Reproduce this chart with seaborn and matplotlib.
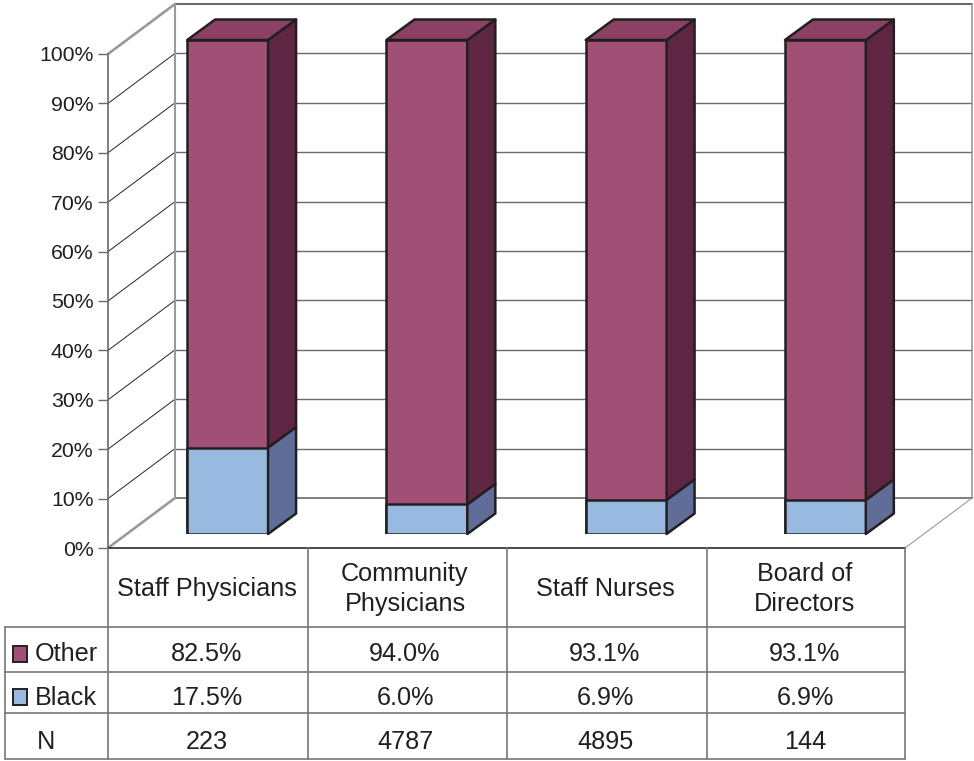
import matplotlib
matplotlib.use("Agg")
import matplotlib.pyplot as plt
from matplotlib.patches import Polygon, Rectangle
import seaborn as sns

categories = ["Staff Physicians", "Community\nPhysicians", "Staff Nurses", "Board of\nDirectors"]
other = [82.5, 94.0, 93.1, 93.1]
black = [17.5, 6.0, 6.9, 6.9]
n_values = [223, 4787, 4895, 144]
y_ticks = list(range(0, 101, 10))

W, H = 974, 761
sns.set_theme(style="white")
plt.rcParams["font.family"] = ["Liberation Sans", "DejaVu Sans"]
INK = "#231F20"
GREY = "#9A9A9C"
GRID = "#6A6A6C"

def box(l, top, r, bottom):
    return [l / W, 1 - bottom / H, (r - l) / W, (bottom - top) / H]

fig = plt.figure(figsize=(W / 100, H / 100), dpi=100, facecolor="white")

# --- chart frame: front plane of the 3-D box
ax = fig.add_axes(box(108, 54, 905, 548))
ax.set_xlim(0, 4)
ax.set_ylim(0, 100)
ax.patch.set_alpha(0)
sns.despine(ax=ax, top=True, right=True, bottom=True)
ax.spines["left"].set_color(GRID)
ax.spines["left"].set_linewidth(1.2)
ax.set_xticks([])
ax.set_yticks(y_ticks)
ax.set_yticklabels([f"{v}%" for v in y_ticks], fontsize=15.3, color=INK)
ax.tick_params(axis="y", left=True, length=7, width=1, color=GRID, pad=3.4)

wall_dx = 67 / (797 / 4)
wall_dy = 50 / 4.94
for v in y_ticks[1:-1]:
    ax.plot([0, wall_dx], [v, v + wall_dy], color="#222222", lw=0.7, clip_on=False, zorder=1)
    ax.plot([wall_dx, 4 + wall_dx], [v + wall_dy] * 2, color=GRID, lw=1.0, clip_on=False, zorder=1)
# wall outlines
ax.plot([wall_dx, wall_dx], [wall_dy, 100 + wall_dy], color=GREY, lw=1.5, clip_on=False, zorder=1)
ax.plot([wall_dx, 4 + wall_dx], [100 + wall_dy] * 2, color=GRID, lw=1.5, clip_on=False, zorder=1)
ax.plot([4 + wall_dx] * 2, [wall_dy, 100 + wall_dy], color=GREY, lw=1.2, clip_on=False, zorder=1)
ax.plot([wall_dx, 4 + wall_dx], [wall_dy, wall_dy], color=GRID, lw=1.2, clip_on=False, zorder=1)
ax.plot([0, wall_dx], [0, wall_dy], color=GREY, lw=1.9, clip_on=False, zorder=1)
ax.plot([0, wall_dx], [100, 100 + wall_dy], color=GREY, lw=1.9, clip_on=False, zorder=1)
ax.plot([4, 4 + wall_dx], [0, wall_dy], color=GREY, lw=0.8, clip_on=False, zorder=1)

# --- bars: plane part-way into the box
bar_ax = fig.add_axes(box(128, 40, 925, 534))
bar_ax.patch.set_alpha(0)
totals = [o + b for o, b in zip(other, black)]
short = [c.replace("\n", " ") for c in categories]
FRONT_O, SIDE_O, TOP_O = "#A05075", "#5E2642", "#8A4163"
FRONT_B, SIDE_B = "#98B9E0", "#5F6D98"
EDGE = dict(edgecolor=INK, linewidth=1.8)
sns.barplot(x=short, y=totals, color=FRONT_O, saturation=1, width=0.406, ax=bar_ax, **EDGE)
sns.barplot(x=short, y=black, color=FRONT_B, saturation=1, width=0.406, ax=bar_ax, **EDGE)
bar_ax.set_xlim(-0.5, 3.5)
bar_ax.set_ylim(0, 100)
bar_ax.axis("off")

bar_dx = 28 / (797 / 4)
bar_dy = 20.5 / 4.94
for i in range(len(categories)):
    tot = bar_ax.patches[i]
    low = bar_ax.patches[i + len(categories)]
    x0, x1 = tot.get_x(), tot.get_x() + tot.get_width()
    t, b = tot.get_height(), low.get_height()
    faces = [
        ([(x1, 0), (x1, b), (x1 + bar_dx, b + bar_dy), (x1 + bar_dx, bar_dy)], SIDE_B),
        ([(x1, b), (x1, t), (x1 + bar_dx, t + bar_dy), (x1 + bar_dx, b + bar_dy)], SIDE_O),
        ([(x0, t), (x1, t), (x1 + bar_dx, t + bar_dy), (x0 + bar_dx, t + bar_dy)], TOP_O),
    ]
    for pts, col in faces:
        bar_ax.add_patch(Polygon(pts, closed=True, facecolor=col, edgecolor=INK,
                                 linewidth=1.8, clip_on=False, joinstyle="round"))

# --- data table, in pixel coordinates of the page
tab = fig.add_axes([0, 0, 1, 1])
tab.set_xlim(0, W)
tab.set_ylim(H, 0)
tab.axis("off")
tab.patch.set_alpha(0)
col_x = [108, 307.5, 507, 707, 905]
row_y = [548, 627, 672, 713, 759]
LINE = "#77777A"
tab.plot([108, 905], [548, 548], color="#2A2A2C", lw=1.2)
for y in row_y[1:]:
    tab.plot([5, 905], [y, y], color=LINE, lw=1.2)
for x in col_x:
    tab.plot([x, x], [548, 759], color=LINE, lw=1.2)
tab.plot([5, 5], [627, 759], color=LINE, lw=1.2)

centers = [207, 405, 605, 805]
FS = 18.2
for cx, c, o, b, n in zip(centers, categories, other, black, n_values):
    tab.text(cx, 589, c, ha="center", va="center", fontsize=FS, color=INK, linespacing=1.32)
    tab.text(cx, 654, f"{o:.1f}%", ha="center", va="center", fontsize=FS, color=INK)
    tab.text(cx, 698, f"{b:.1f}%", ha="center", va="center", fontsize=FS, color=INK)
    tab.text(cx, 742, f"{n}", ha="center", va="center", fontsize=FS, color=INK)

tab.add_patch(Rectangle((13, 646), 14, 16, facecolor=FRONT_O, edgecolor=INK, lw=1.4))
tab.add_patch(Rectangle((13, 689), 14, 16, facecolor=FRONT_B, edgecolor=INK, lw=1.4))
tab.text(35, 654, "Other", ha="left", va="center", fontsize=FS, color=INK)
tab.text(35, 698, "Black", ha="left", va="center", fontsize=FS, color=INK)
tab.text(46, 742, "N", ha="center", va="center", fontsize=FS, color=INK)

fig.savefig("out.png", dpi=100, facecolor="white")
